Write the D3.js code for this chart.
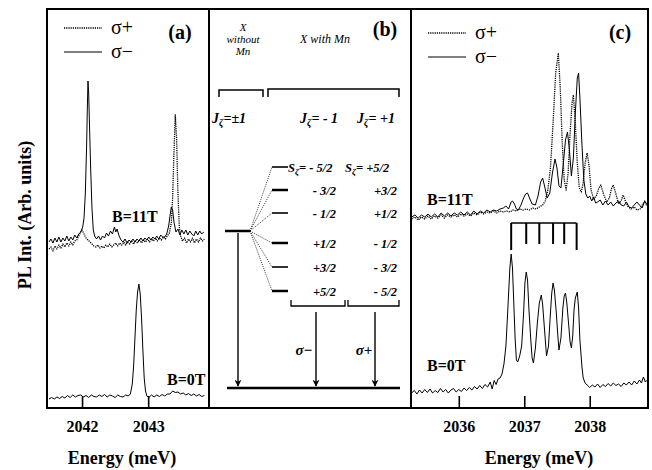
<!DOCTYPE html>
<html>
<head>
<meta charset="utf-8">
<script src="https://cdn.jsdelivr.net/npm/d3@7"></script>
<style>
  body { margin: 0; background: #fff; }
  svg { font-family: "Liberation Serif", "Times New Roman", serif; }
</style>
</head>
<body>
<svg id="chart"></svg>
<script>
const svgWidth = 652;
const svgHeight = 470;
const frame = { top: 9, bottom: 408, left: 47, midA: 209, midB: 411, right: 648 };

// ---- data (energy in meV, intensity in arb. units) ----
const ticksA = [2042, 2043];
const ticksC = [2036, 2037, 2038];

// panel (a), B=0T
const a0T = [
  [2041.50, 9],[2041.54, 10.5],[2041.58, 9],[2041.62, 11],[2041.66, 9.5],[2041.70, 11.5],[2041.74, 10],
  [2041.78, 12.5],[2041.82, 10.5],[2041.86, 13],[2041.90, 11],[2041.94, 12.5],[2041.98, 13],[2042.02, 11],
  [2042.06, 12.5],[2042.10, 10.5],[2042.14, 13],[2042.18, 11.5],[2042.22, 11],[2042.26, 13],[2042.30, 11.5],
  [2042.34, 13.5],[2042.38, 11],[2042.42, 13],[2042.46, 12],[2042.50, 10.5],[2042.54, 13],[2042.58, 11.5],
  [2042.62, 11],[2042.66, 13],[2042.70, 12],[2042.73, 14],[2042.76, 24],[2042.78, 42],[2042.80, 70],
  [2042.82, 98],[2042.84, 116],[2042.86, 124],[2042.88, 114],[2042.90, 90],[2042.92, 58],[2042.94, 30],
  [2042.96, 17],[2042.98, 12],[2043.01, 10.5],[2043.05, 13],[2043.09, 11],[2043.13, 13],[2043.17, 11.5],
  [2043.21, 13.5],[2043.25, 12],[2043.29, 14],[2043.33, 14],[2043.37, 17],[2043.41, 15.5],[2043.45, 16],
  [2043.49, 14],[2043.53, 15],[2043.57, 13],[2043.61, 14.5],[2043.65, 12.5],[2043.69, 14],[2043.73, 12],
  [2043.77, 13.5],[2043.81, 11.5],[2043.85, 12.5]
];

// panel (a), B=11T, sigma-
const a11Minus = [
  [2041.50, 166],[2041.53, 169],[2041.56, 165],[2041.59, 170],[2041.62, 166],[2041.65, 171],[2041.68, 166],
  [2041.71, 170],[2041.74, 167],[2041.77, 172],[2041.80, 167],[2041.83, 171],[2041.86, 168],[2041.89, 173],
  [2041.92, 170],[2041.95, 174],[2041.98, 176],[2042.01, 181],[2042.03, 190],[2042.05, 215],[2042.07, 265],
  [2042.08, 300],[2042.09, 327],[2042.10, 315],[2042.11, 290],[2042.13, 240],[2042.15, 200],[2042.17, 178],
  [2042.19, 172],[2042.22, 169],[2042.25, 172],[2042.28, 168],[2042.31, 172],[2042.34, 170],[2042.37, 175],
  [2042.40, 172],[2042.43, 177],[2042.46, 174],[2042.49, 181],[2042.51, 176],[2042.53, 179],[2042.56, 172],
  [2042.59, 168],[2042.62, 166],[2042.65, 169],[2042.68, 165],[2042.71, 168],[2042.74, 166],[2042.77, 169],
  [2042.80, 166],[2042.83, 169],[2042.86, 167],[2042.89, 170],[2042.92, 167],[2042.95, 170],[2042.98, 168],
  [2043.01, 171],[2043.04, 168],[2043.07, 171],[2043.10, 169],[2043.13, 172],[2043.16, 169],[2043.19, 173],
  [2043.22, 171],[2043.25, 171],[2043.28, 174],[2043.31, 182],[2043.33, 192],[2043.35, 201],[2043.37, 198],
  [2043.39, 186],[2043.42, 176],[2043.45, 179],[2043.48, 173],[2043.51, 178],[2043.54, 174],[2043.57, 178],
  [2043.60, 173],[2043.63, 177],[2043.66, 174],[2043.69, 172],[2043.72, 177],[2043.75, 173],[2043.78, 177],
  [2043.81, 174],[2043.84, 176]
];

// panel (a), B=11T, sigma+
const a11Plus = [
  [2041.50, 159],[2041.53, 161],[2041.56, 157],[2041.59, 162],[2041.62, 159],[2041.65, 163],[2041.68, 160],
  [2041.71, 164],[2041.74, 161],[2041.77, 165],[2041.80, 162],[2041.83, 166],[2041.86, 163],[2041.89, 167],
  [2041.92, 168],[2041.95, 172],[2041.98, 176],[2042.00, 178],[2042.03, 174],[2042.06, 170],[2042.09, 168],
  [2042.12, 166],[2042.15, 164],[2042.18, 162],[2042.21, 161],[2042.24, 163],[2042.27, 160],[2042.30, 162],
  [2042.33, 160],[2042.36, 163],[2042.39, 161],[2042.42, 164],[2042.45, 161],[2042.48, 163],[2042.51, 165],
  [2042.54, 162],[2042.57, 165],[2042.60, 163],[2042.63, 166],[2042.66, 163],[2042.69, 166],[2042.72, 164],
  [2042.75, 167],[2042.78, 164],[2042.81, 167],[2042.84, 165],[2042.87, 168],[2042.90, 165],[2042.93, 168],
  [2042.96, 166],[2042.99, 169],[2043.02, 166],[2043.05, 169],[2043.08, 167],[2043.11, 170],[2043.14, 167],
  [2043.17, 170],[2043.20, 168],[2043.23, 171],[2043.26, 169],[2043.29, 172],[2043.32, 175],[2043.35, 185],
  [2043.37, 210],[2043.39, 255],[2043.41, 293],[2043.43, 270],[2043.45, 215],[2043.47, 182],[2043.49, 172],
  [2043.52, 167],[2043.55, 170],[2043.58, 165],[2043.61, 169],[2043.64, 166],[2043.67, 170],[2043.70, 165],
  [2043.73, 169],[2043.76, 166],[2043.79, 170],[2043.82, 167],[2043.85, 169]
];

// panel (c), B=0T
const c0T = [
  [2035.28, 15],[2035.32, 17.5],[2035.36, 14],[2035.40, 18],[2035.44, 15],[2035.48, 18.5],[2035.52, 15.5],
  [2035.56, 19],[2035.60, 15],[2035.64, 17.5],[2035.68, 15.5],[2035.72, 19.5],[2035.76, 16],[2035.80, 18.5],
  [2035.84, 15],[2035.88, 18],[2035.92, 19.5],[2035.96, 16],[2036.00, 18.5],[2036.04, 16.5],[2036.08, 20],
  [2036.12, 17.5],[2036.16, 20.5],[2036.20, 18],[2036.24, 21.5],[2036.28, 19],[2036.32, 22.5],[2036.36, 19.5],
  [2036.40, 23.5],[2036.44, 21],[2036.48, 26],[2036.51, 19],[2036.54, 27.5],[2036.57, 23.5],[2036.60, 29],
  [2036.63, 30],[2036.66, 34],[2036.69, 44],[2036.72, 62],[2036.75, 100],[2036.78, 140],[2036.80, 154],
  [2036.82, 140],[2036.84, 105],[2036.86, 70],[2036.88, 48],[2036.90, 46],[2036.93, 52],[2036.96, 62],
  [2036.99, 95],[2037.01, 125],[2037.03, 136],[2037.05, 128],[2037.07, 100],[2037.10, 68],[2037.12, 50],
  [2037.14, 45],[2037.17, 60],[2037.20, 85],[2037.23, 105],[2037.26, 113],[2037.28, 104],[2037.31, 78],
  [2037.34, 52],[2037.37, 62],[2037.40, 95],[2037.42, 115],[2037.44, 125],[2037.46, 118],[2037.49, 95],
  [2037.51, 75],[2037.53, 58],[2037.56, 70],[2037.59, 100],[2037.61, 112],[2037.63, 115],[2037.65, 105],
  [2037.68, 82],[2037.70, 66],[2037.72, 60],[2037.74, 72],[2037.76, 98],[2037.78, 110],[2037.81, 116],
  [2037.83, 100],[2037.85, 68],[2037.88, 42],[2037.90, 30],[2037.93, 25],[2037.96, 23],[2038.00, 20.5],
  [2038.04, 23],[2038.08, 21],[2038.12, 24],[2038.16, 20.5],[2038.20, 23.5],[2038.24, 21.5],[2038.28, 24.5],
  [2038.32, 22],[2038.36, 25],[2038.40, 22.5],[2038.44, 24],[2038.48, 21.5],[2038.52, 25],[2038.56, 23],
  [2038.60, 26],[2038.64, 23],[2038.68, 27],[2038.72, 24],[2038.76, 28],[2038.79, 25],[2038.82, 31],
  [2038.85, 26],[2038.88, 28]
];

// panel (c), B=11T, sigma-
const c11Minus = [
  [2035.28, 191],[2035.33, 193],[2035.38, 190],[2035.43, 193],[2035.48, 191],[2035.53, 194],[2035.58, 191],
  [2035.63, 194],[2035.68, 191],[2035.73, 195],[2035.78, 192],[2035.83, 195],[2035.88, 192],[2035.93, 195],
  [2035.98, 193],[2036.03, 196],[2036.08, 193],[2036.13, 196],[2036.18, 193],[2036.23, 197],[2036.28, 194],
  [2036.33, 197],[2036.38, 195],[2036.43, 198],[2036.48, 196],[2036.53, 198],[2036.58, 197],[2036.63, 199],
  [2036.68, 200],[2036.72, 202],[2036.76, 199],[2036.80, 206],[2036.82, 207],[2036.85, 204],[2036.88, 199],
  [2036.91, 198],[2036.95, 203],[2036.99, 210],[2037.02, 214],[2037.05, 215],[2037.08, 210],[2037.12, 204],
  [2037.17, 203],[2037.21, 212],[2037.25, 226],[2037.28, 230],[2037.31, 222],[2037.35, 210],[2037.39, 215],
  [2037.43, 235],[2037.47, 249],[2037.50, 240],[2037.53, 222],[2037.56, 220],[2037.59, 240],[2037.63, 268],
  [2037.66, 276],[2037.69, 258],[2037.72, 232],[2037.75, 250],[2037.78, 295],[2037.81, 330],[2037.83, 335],
  [2037.85, 310],[2037.88, 265],[2037.91, 228],[2037.94, 214],[2037.97, 210],[2038.00, 212],[2038.03, 207],
  [2038.06, 211],[2038.09, 205],[2038.12, 206],[2038.16, 208],[2038.20, 203],[2038.24, 207],[2038.28, 203],
  [2038.32, 206],[2038.36, 202],[2038.40, 205],[2038.44, 207],[2038.48, 203],[2038.52, 202],[2038.56, 206],
  [2038.60, 201],[2038.64, 200],[2038.68, 203],[2038.72, 206],[2038.76, 203],[2038.80, 200],[2038.84, 207],
  [2038.87, 204]
];

// panel (c), B=11T, sigma+
const c11Plus = [
  [2035.28, 189],[2035.33, 191],[2035.38, 188],[2035.43, 191],[2035.48, 189],[2035.53, 192],[2035.58, 189],
  [2035.63, 192],[2035.68, 190],[2035.73, 193],[2035.78, 190],[2035.83, 193],[2035.88, 191],[2035.93, 193],
  [2035.98, 191],[2036.03, 194],[2036.08, 192],[2036.13, 194],[2036.18, 192],[2036.23, 195],[2036.28, 193],
  [2036.33, 196],[2036.38, 194],[2036.43, 196],[2036.48, 195],[2036.53, 197],[2036.58, 195],[2036.63, 197],
  [2036.68, 196],[2036.73, 197],[2036.78, 196],[2036.83, 198],[2036.88, 197],[2036.93, 199],[2036.98, 198],
  [2037.03, 199],[2037.08, 198],[2037.13, 200],[2037.18, 199],[2037.23, 201],[2037.28, 203],[2037.32, 207],
  [2037.36, 218],[2037.40, 240],[2037.44, 285],[2037.48, 335],[2037.52, 355],[2037.55, 320],[2037.58, 265],
  [2037.61, 228],[2037.64, 218],[2037.67, 235],[2037.70, 275],[2037.73, 305],[2037.75, 313],[2037.78, 285],
  [2037.81, 245],[2037.84, 220],[2037.87, 216],[2037.90, 225],[2037.93, 245],[2037.96, 255],[2037.99, 242],
  [2038.02, 218],[2038.06, 209],[2038.10, 212],[2038.14, 220],[2038.17, 223],[2038.21, 214],[2038.26, 206],
  [2038.30, 210],[2038.33, 219],[2038.36, 223],[2038.40, 214],[2038.44, 204],[2038.48, 207],[2038.51, 213],
  [2038.55, 206],[2038.59, 201],[2038.63, 199],[2038.68, 201],[2038.72, 198],[2038.77, 199],[2038.81, 204],
  [2038.84, 207],[2038.87, 202]
];

// Mn-split line positions at B=0T
const combE = [2036.80, 2037.03, 2037.23, 2037.44, 2037.61, 2037.80];

// panel (b) level scheme
const spinLevels = [-2.5, -1.5, -0.5, 0.5, 1.5, 2.5];
const labelsMinus = ["- 5/2", "- 3/2", "- 1/2", "+1/2", "+3/2", "+5/2"];
const labelsPlus = ["+5/2", "+3/2", "+1/2", "- 1/2", "- 3/2", "- 5/2"];
const headerLines = ["X", "without", "Mn"];

// ---- drawing ----
const svg = d3.select('#chart')
  .attr("width", svgWidth)
  .attr("height", svgHeight);

const y = d3.scaleLinear().domain([0, 400]).range([frame.bottom, frame.bottom - 400]);
const xA = d3.scaleLinear().domain([2041.47, 2043.92]).range([frame.left, frame.midA]);
const xC = d3.scaleLinear().domain([2035.27, 2038.89]).range([frame.midB, frame.right]);

const drawAxis = (x, ticks) => {
  let g = svg.append("g")
    .attr("transform", "translate(0," + frame.bottom + ")")
    .call(d3.axisBottom(x).tickValues(ticks).tickFormat(d3.format("d"))
      .tickSizeInner(-12).tickSizeOuter(0).tickPadding(13));
  g.select(".domain").remove();
  g.selectAll(".tick line").attr("stroke", "#000").attr("stroke-width", 1.6);
  g.selectAll(".tick text")
    .attr("fill", "#000")
    .style("font-family", "'Liberation Serif', serif")
    .style("font-size", "16px")
    .style("font-weight", "bold");
}

const drawSpectrum = (x, data, dotted) => {
  let line = d3.line()
    .x(function(d) { return x(d[0]) })
    .y(function(d) { return y(d[1]) });
  svg.append("path")
    .datum(data)
    .attr("fill", "none")
    .attr("stroke", "#000")
    .attr("stroke-width", dotted ? 1.3 : 1)
    .attr("stroke-dasharray", dotted ? "1.2,1" : null)
    .attr("stroke-linejoin", "round")
    .attr("d", line);
}

const addText = (x, yy, txt, size, opts = {}) => {
  return svg.append("text")
    .attr("x", x)
    .attr("y", yy)
    .attr("text-anchor", opts.anchor || "start")
    .style("font-size", size + "px")
    .style("font-weight", opts.bold ? "bold" : "normal")
    .style("font-style", opts.italic ? "italic" : "normal")
    .text(txt);
}

const drawLegend = (x0, y0) => {
  svg.append("line").attr("x1", x0).attr("x2", x0 + 38).attr("y1", y0).attr("y2", y0)
    .attr("stroke", "#000").attr("stroke-width", 1.3).attr("stroke-dasharray", "1.2,1");
  svg.append("line").attr("x1", x0).attr("x2", x0 + 38).attr("y1", y0 + 24).attr("y2", y0 + 24)
    .attr("stroke", "#000").attr("stroke-width", 1);
  addText(x0 + 47, y0 + 6, "σ+", 20);
  addText(x0 + 47, y0 + 30, "σ−", 20);
}

// spectra
drawSpectrum(xA, a0T, false);
drawSpectrum(xA, a11Plus, true);
drawSpectrum(xA, a11Minus, false);
drawSpectrum(xC, c0T, false);
drawSpectrum(xC, c11Plus, true);
drawSpectrum(xC, c11Minus, false);

drawAxis(xA, ticksA);
drawAxis(xC, ticksC);

// comb over the B=0T lines
const combTop = 223;
svg.append("line")
  .attr("x1", xC(combE[0])).attr("x2", xC(combE[combE.length - 1]))
  .attr("y1", combTop).attr("y2", combTop)
  .attr("stroke", "#000").attr("stroke-width", 1.6);
svg.selectAll(".tooth")
  .data(combE)
  .enter().append("line")
  .attr("x1", d => xC(d)).attr("x2", d => xC(d))
  .attr("y1", combTop)
  .attr("y2", (d, i) => (i == 0 || i == combE.length - 1) ? 250 : 244)
  .attr("stroke", "#000").attr("stroke-width", 2);

// frames
svg.append("rect")
  .attr("x", frame.left).attr("y", frame.top)
  .attr("width", frame.right - frame.left).attr("height", frame.bottom - frame.top)
  .attr("fill", "none").attr("stroke", "#000").attr("stroke-width", 2);
[frame.midA, frame.midB].forEach(xx => {
  svg.append("line").attr("x1", xx).attr("x2", xx).attr("y1", frame.top).attr("y2", frame.bottom)
    .attr("stroke", "#000").attr("stroke-width", 2);
});

// legends and labels for (a) and (c)
drawLegend(64, 28);
drawLegend(428, 33);
addText(180, 39, "(a)", 20, { bold: true, anchor: "middle" });
addText(385, 36, "(b)", 20, { bold: true, anchor: "middle" });
addText(620, 39, "(c)", 20, { bold: true, anchor: "middle" });
addText(112, 222, "B=11T", 16, { bold: true });
addText(167, 385, "B=0T", 16, { bold: true });
addText(427, 205, "B=11T", 16, { bold: true });
addText(427, 371, "B=0T", 16, { bold: true });

addText(122, 464, "Energy (meV)", 18, { bold: true, anchor: "middle" });
addText(539, 464, "Energy (meV)", 18, { bold: true, anchor: "middle" });
addText(0, 0, "PL Int. (Arb. units)", 18, { bold: true, anchor: "middle" })
  .attr("transform", "translate(31,215) rotate(-90)");

// ---- panel (b): level scheme ----
const levelY = d3.scaleLinear().domain([-2.5, -0.5, 0.5, 2.5]).range([167, 213, 243, 291]);
const xLevel = { x0: 225, x1: 250, y: 231 };
const groundY = 388;

svg.append("defs").append("marker")
  .attr("id", "head")
  .attr("viewBox", "0 0 10 10")
  .attr("refX", 9).attr("refY", 5)
  .attr("markerWidth", 7).attr("markerHeight", 7)
  .attr("markerUnits", "userSpaceOnUse")
  .attr("orient", "auto")
  .append("path")
  .attr("d", "M0,0 L10,5 L0,10 L3,5 Z")
  .attr("fill", "#000");

// three-line header, one text element with stacked tspans
let hdr = svg.append("text")
  .attr("text-anchor", "middle")
  .style("font-size", "11px")
  .style("font-style", "italic");
headerLines.forEach((s, i) => {
  hdr.append("tspan").attr("x", 243).attr("y", 31 + i * 12).text(s);
});
addText(325, 43, "X with Mn", 12, { italic: true, anchor: "middle" });

svg.append("path").attr("d", "M219,97 V90 H263 V97")
  .attr("fill", "none").attr("stroke", "#000").attr("stroke-width", 1.5);
svg.append("path").attr("d", "M268,97 V89 H399 V97")
  .attr("fill", "none").attr("stroke", "#000").attr("stroke-width", 1.5);

const jLabel = (x, rest) => {
  let t = addText(x, 123, "", 14, { bold: true, italic: true });
  t.append("tspan").text("J");
  t.append("tspan").attr("dy", 3).style("font-size", "10px").text("ζ");
  t.append("tspan").attr("dy", -3).text(rest);
  return t;
}
jLabel(212, "=±1");
jLabel(300, "= - 1");
jLabel(357, "= +1");

// X level and fan of dotted lines to the Mn-split levels
svg.append("line").attr("x1", xLevel.x0).attr("x2", xLevel.x1).attr("y1", xLevel.y).attr("y2", xLevel.y)
  .attr("stroke", "#000").attr("stroke-width", 2.5);
svg.selectAll(".fan")
  .data(spinLevels)
  .enter().append("line")
  .attr("x1", xLevel.x1).attr("y1", xLevel.y)
  .attr("x2", 272).attr("y2", d => levelY(d))
  .attr("stroke", "#000").attr("stroke-width", 0.8).attr("stroke-dasharray", "1,1.2");
svg.selectAll(".level")
  .data(spinLevels)
  .enter().append("line")
  .attr("x1", 272).attr("x2", 288)
  .attr("y1", d => levelY(d)).attr("y2", d => levelY(d))
  .attr("stroke", "#000").attr("stroke-width", (d, i) => i % 2 ? 2.5 : 1.6);

spinLevels.forEach((s, i) => {
  let yy = levelY(s) + 4.5;
  if (i == 0) {
    let t = addText(288, yy, "", 12.5, { bold: true, italic: true });
    t.append("tspan").text("S");
    t.append("tspan").attr("dy", 3).style("font-size", "9px").text("ζ");
    t.append("tspan").attr("dy", -3).text("= " + labelsMinus[i]);
    let t2 = addText(345, yy, "", 12.5, { bold: true, italic: true });
    t2.append("tspan").text("S");
    t2.append("tspan").attr("dy", 3).style("font-size", "9px").text("ζ");
    t2.append("tspan").attr("dy", -3).text("= " + labelsPlus[i]);
  } else {
    addText(336, yy, labelsMinus[i], 12.5, { bold: true, italic: true, anchor: "end" });
    addText(397, yy, labelsPlus[i], 12.5, { bold: true, italic: true, anchor: "end" });
  }
});

svg.append("path").attr("d", "M291,300 V306 H345 V300")
  .attr("fill", "none").attr("stroke", "#000").attr("stroke-width", 1.3);
svg.append("path").attr("d", "M348,300 V306 H399 V300")
  .attr("fill", "none").attr("stroke", "#000").attr("stroke-width", 1.3);

[[238, xLevel.y + 2], [316, 312], [375, 312]].forEach(a => {
  svg.append("line").attr("x1", a[0]).attr("x2", a[0]).attr("y1", a[1]).attr("y2", groundY - 2)
    .attr("stroke", "#000").attr("stroke-width", 1.4).attr("marker-end", "url(#head)");
});
addText(304, 355, "σ−", 15, { bold: true, italic: true, anchor: "middle" });
addText(364, 355, "σ+", 15, { bold: true, italic: true, anchor: "middle" });

svg.append("line").attr("x1", 227).attr("x2", 400).attr("y1", groundY).attr("y2", groundY)
  .attr("stroke", "#000").attr("stroke-width", 2.5);
</script>
</body>
</html>
